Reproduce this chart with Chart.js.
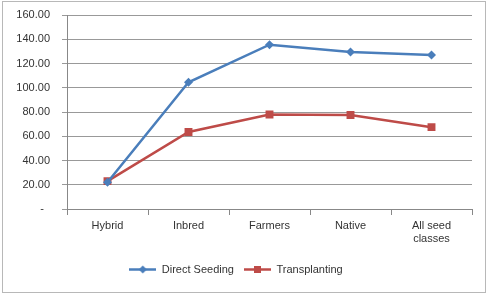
<!DOCTYPE html>
<html>
<head>
<meta charset="utf-8">
<script src="https://cdn.jsdelivr.net/npm/chart.js@4"></script>
<style>
  body { margin: 0; background: #fff; }
  #wrap { position: relative; width: 490px; height: 299px; }
  #frame { position: absolute; left: 2px; top: 1px; width: 482px; height: 290px; border: 1px solid #b8b8b8; }
  canvas { position: absolute; left: 0; top: 0; }
</style>
</head>
<body>
<div id="wrap">
  <div id="frame"></div>
  <canvas id="chart" width="490" height="299"></canvas>
</div>
<script>
const categories = ['Hybrid', 'Inbred', 'Farmers', 'Native', ['All seed', 'classes']];
const directSeeding = [22, 104.5, 135.5, 129.5, 127];
const transplanting = [23, 63.5, 78, 77.5, 67.5];

const blue = '#4a7ebb';
const red = '#be4b48';

// small line+marker picture for the legend
const legendIcon = (color, shape) => {
  const c = document.createElement('canvas');
  c.width = 27;
  c.height = 11;
  const g = c.getContext('2d');
  g.strokeStyle = color;
  g.lineWidth = 2.5;
  g.beginPath();
  g.moveTo(0, 5.5);
  g.lineTo(27, 5.5);
  g.stroke();
  g.fillStyle = color;
  g.beginPath();
  if (shape === 'diamond') {
    g.moveTo(13.5, 1.5);
    g.lineTo(17.5, 5.5);
    g.lineTo(13.5, 9.5);
    g.lineTo(9.5, 5.5);
    g.closePath();
  } else {
    g.rect(10, 2, 7, 7);
  }
  g.fill();
  return c;
};

const ctx = document.getElementById('chart').getContext('2d');
new Chart(ctx, {
  type: 'line',
  data: {
    labels: categories,
    datasets: [
      {
        label: 'Direct Seeding',
        data: directSeeding,
        borderColor: blue,
        backgroundColor: blue,
        borderWidth: 2.5,
        pointStyle: 'rectRot',
        pointRadius: 4.5,
        pointBorderWidth: 0,
        tension: 0,
      },
      {
        label: 'Transplanting',
        data: transplanting,
        borderColor: red,
        backgroundColor: red,
        borderWidth: 2.5,
        pointStyle: 'rect',
        pointRadius: 5.6,
        pointBorderWidth: 0,
        tension: 0,
      },
    ],
  },
  options: {
    responsive: false,
    animation: false,
    layout: { padding: { left: 0, right: 18, top: 15, bottom: 14 } },
    plugins: {
      tooltip: { enabled: false },
      legend: {
        position: 'bottom',
        labels: {
          usePointStyle: true,
          pointStyleWidth: 27,
          padding: 10,
          color: '#333',
          font: { family: 'Liberation Sans', size: 11 },
          generateLabels: (chart) => [
            { text: 'Direct Seeding', pointStyle: legendIcon(blue, 'diamond'), datasetIndex: 0, fontColor: '#333', lineWidth: 0 },
            { text: 'Transplanting', pointStyle: legendIcon(red, 'square'), datasetIndex: 1, fontColor: '#333', lineWidth: 0 },
          ],
        },
      },
    },
    scales: {
      x: {
        offset: true,
        grid: { offset: true, drawOnChartArea: false, tickLength: 6, color: '#888' },
        border: { color: '#888' },
        ticks: { color: '#333', padding: 4, font: { family: 'Liberation Sans', size: 11 }, maxRotation: 0 },
        afterFit: (scale) => { scale.height = 45; scale.paddingTop = 0; scale.paddingBottom = 0; },
      },
      y: {
        min: 0,
        max: 160,
        ticks: {
          stepSize: 20,
          color: '#333',
          padding: 12,
          font: { family: 'Liberation Sans', size: 11 },
          callback: (v) => (v === 0 ? '-  ' : v.toFixed(2)),
        },
        grid: { color: '#999', tickLength: 5 },
        border: { color: '#888' },
        afterFit: (scale) => { scale.width = 67; scale.paddingTop = 0; scale.paddingBottom = 0; },
      },
    },
  },
});
</script>
</body>
</html>
